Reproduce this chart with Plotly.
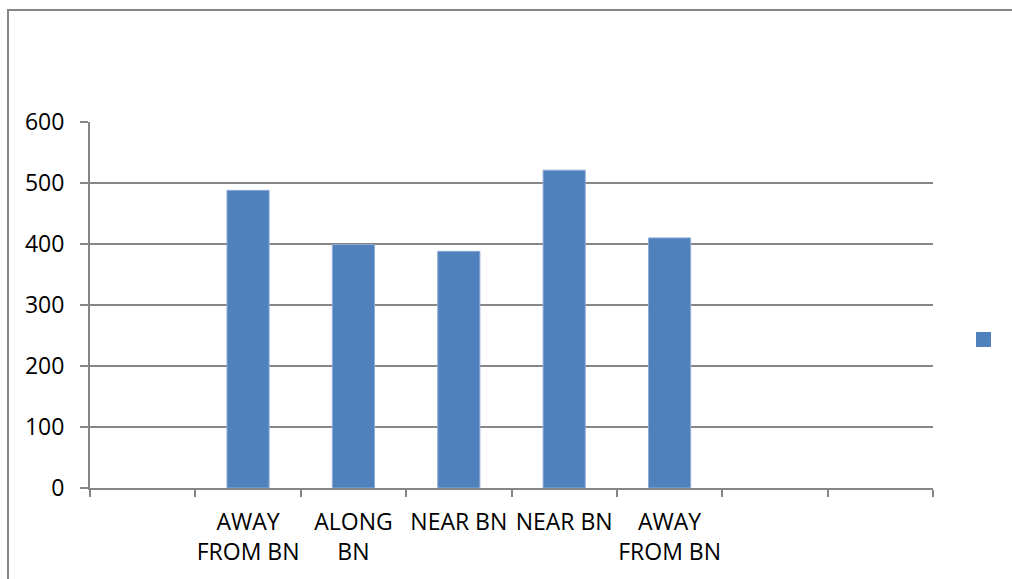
import plotly.graph_objects as go

# Category slots along the x axis (blank slots carry no bar)
categories = ["", "AWAY<br>FROM BN", "ALONG<br>BN", "NEAR BN", "NEAR BN", "AWAY<br>FROM BN", "", ""]
values = [None, 488, 399, 388, 521, 410, None, None]
y_ticks = [0, 100, 200, 300, 400, 500, 600]

positions = list(range(len(categories)))
bar_x = [p for p, v in zip(positions, values) if v is not None]
bar_y = [v for v in values if v is not None]

GRAY = "#868686"
BLUE = "#4F81BD"
FONT = "Open Sans, Liberation Sans, Arial, sans-serif"

fig = go.Figure()
fig.add_trace(go.Bar(
    x=bar_x, y=bar_y, width=0.4, name="",
    marker=dict(color=BLUE, line=dict(color="#8FACD6", width=1)),
    showlegend=False,
))

W, H = 1012, 579
L, R, T, B = 90, 79, 122, 91
pw, ph = W - L - R, H - T - B

def px_x(p):
    return (p - L) / pw

def px_y(p):
    return (H - B - p) / ph

fig.update_layout(
    width=W, height=H,
    margin=dict(l=L, r=R, t=T, b=B, pad=0, autoexpand=False),
    paper_bgcolor="white", plot_bgcolor="white",
    font=dict(family=FONT, size=23, color="#000000"),
    bargap=0.6,
    showlegend=False,
    xaxis=dict(
        range=[-0.5, len(categories) - 0.5],
        tickmode="array", tickvals=positions, ticktext=categories,
        ticks="", showgrid=False, zeroline=False,
        showline=True, linecolor=GRAY, linewidth=2,
        minor=dict(tickmode="linear", tick0=-0.5, dtick=1, ticks="outside",
                   ticklen=7, tickwidth=2, tickcolor=GRAY, showgrid=False),
        ticklabelstandoff=12,
        fixedrange=True,
    ),
    yaxis=dict(
        range=[0, 600], tickmode="array", tickvals=y_ticks,
        ticks="outside", ticklen=8, tickwidth=2, tickcolor=GRAY,
        showgrid=True, gridcolor=GRAY, gridwidth=2,
        showline=True, linecolor=GRAY, linewidth=2,
        zeroline=False, ticklabelstandoff=11,
        fixedrange=True,
    ),
    shapes=[
        # chart area frame
        dict(type="rect", xref="paper", yref="paper",
             x0=px_x(8), x1=px_x(1030), y0=px_y(700), y1=px_y(10),
             line=dict(color=GRAY, width=2), fillcolor="rgba(0,0,0,0)", layer="below"),
        # legend key for the single unnamed series
        dict(type="rect", xref="paper", yref="paper",
             x0=px_x(976), x1=px_x(991), y0=px_y(347), y1=px_y(332),
             line=dict(width=0), fillcolor=BLUE),
    ],
)

fig.write_html("out.html")
